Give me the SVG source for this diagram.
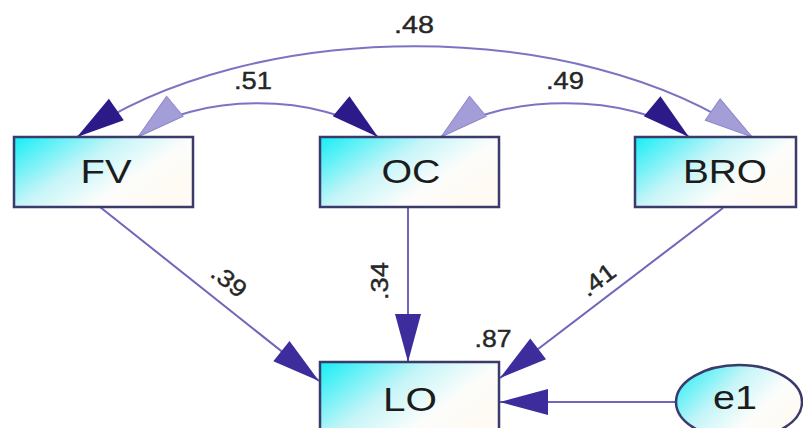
<svg xmlns="http://www.w3.org/2000/svg" width="803" height="428" viewBox="0 0 803 428">
<style>
.box{stroke:#3b3b6b;stroke-width:2.5;fill:url(#cy)}
.nt{font-family:"Liberation Sans",Arial,sans-serif;font-size:34px;fill:#1c1c1c;text-anchor:middle}
.lb{font-family:"Liberation Sans",Arial,sans-serif;font-size:24px;fill:#262626;text-anchor:middle;stroke:#262626;stroke-width:0.4}
.cov{fill:none;stroke:#7b74c2;stroke-width:2}
.dir{fill:none;stroke:#6e66ba;stroke-width:2}
</style>
<defs>
<linearGradient id="cy" x1="0" y1="0" x2="1" y2="0.6">
<stop offset="0" stop-color="#14eef6"/>
<stop offset="0.45" stop-color="#c6f5f8"/>
<stop offset="0.75" stop-color="#fcfdfb"/>
<stop offset="1" stop-color="#fffaf3"/>
</linearGradient>
<marker id="covDark" markerUnits="userSpaceOnUse" markerWidth="50" markerHeight="28" refX="48" refY="13" orient="auto-start-reverse" overflow="visible">
<path d="M0,0 L48,13 L0,26 Z" fill="#2c1a88"/>
</marker>
<marker id="covLight" markerUnits="userSpaceOnUse" markerWidth="50" markerHeight="28" refX="48" refY="13" orient="auto-start-reverse" overflow="visible">
<path d="M0,0 L48,13 L0,26 Z" fill="#a39dd8" stroke="#8e88c8" stroke-width="1"/>
</marker>
<marker id="dirArrow" markerUnits="userSpaceOnUse" markerWidth="50" markerHeight="28" refX="48" refY="13" orient="auto" overflow="visible">
<path d="M0,0 L48,13 L0,26 Z" fill="#3c2c9c"/>
</marker>
</defs>
<rect width="803" height="428" fill="#fff"/>
<g id="connectors">
<path class="cov" d="M77,137 C250,16 579,16 752,137" marker-start="url(#covDark)" marker-end="url(#covLight)"/>
<path class="cov" d="M138,137 C192,92 324,92 378,137" marker-start="url(#covLight)" marker-end="url(#covDark)"/>
<path class="cov" d="M441,137 C495,92 635,92 689,137" marker-start="url(#covLight)" marker-end="url(#covDark)"/>
<path class="dir" d="M100,207 L319,381" marker-end="url(#dirArrow)"/>
<path class="dir" d="M408,207 L408,362" marker-end="url(#dirArrow)"/>
<path class="dir" d="M723,208 L500,378" marker-end="url(#dirArrow)"/>
<path class="dir" d="M676,402 L500,402" marker-end="url(#dirArrow)"/>
<text class="lb" x="414" y="33" textLength="40" lengthAdjust="spacingAndGlyphs">.48</text>
<text class="lb" x="253" y="89" textLength="38" lengthAdjust="spacingAndGlyphs">.51</text>
<text class="lb" x="565" y="89" textLength="38" lengthAdjust="spacingAndGlyphs">.49</text>
<text class="lb" transform="translate(229,281) rotate(38)" x="0" y="8" textLength="38" lengthAdjust="spacingAndGlyphs">.39</text>
<text class="lb" transform="translate(380,281) rotate(-90)" x="0" y="8" textLength="38" lengthAdjust="spacingAndGlyphs">.34</text>
<text class="lb" transform="translate(598,280) rotate(-37)" x="0" y="8" textLength="38" lengthAdjust="spacingAndGlyphs">.41</text>
<text class="lb" x="493" y="347" textLength="37" lengthAdjust="spacingAndGlyphs">.87</text>
</g>
<g id="FV">
<rect class="box" x="14" y="137" width="179" height="70"/>
<text class="nt" x="106" y="183" textLength="51" lengthAdjust="spacingAndGlyphs">FV</text>
</g>
<g id="OC">
<rect class="box" x="320" y="137" width="179" height="70"/>
<text class="nt" x="411" y="183" textLength="59" lengthAdjust="spacingAndGlyphs">OC</text>
</g>
<g id="BRO">
<rect class="box" x="635" y="137" width="161" height="70"/>
<text class="nt" x="725" y="183" textLength="84" lengthAdjust="spacingAndGlyphs">BRO</text>
</g>
<g id="LO">
<rect class="box" x="320" y="362" width="179" height="80"/>
<text class="nt" x="410" y="411" textLength="54" lengthAdjust="spacingAndGlyphs">LO</text>
</g>
<g id="e1">
<ellipse cx="739" cy="402" rx="63" ry="37" stroke="#3b3b6b" stroke-width="2.5" fill="url(#cy)"/>
<text class="nt" x="735" y="409" textLength="44" lengthAdjust="spacingAndGlyphs">e1</text>
</g>
</svg>
